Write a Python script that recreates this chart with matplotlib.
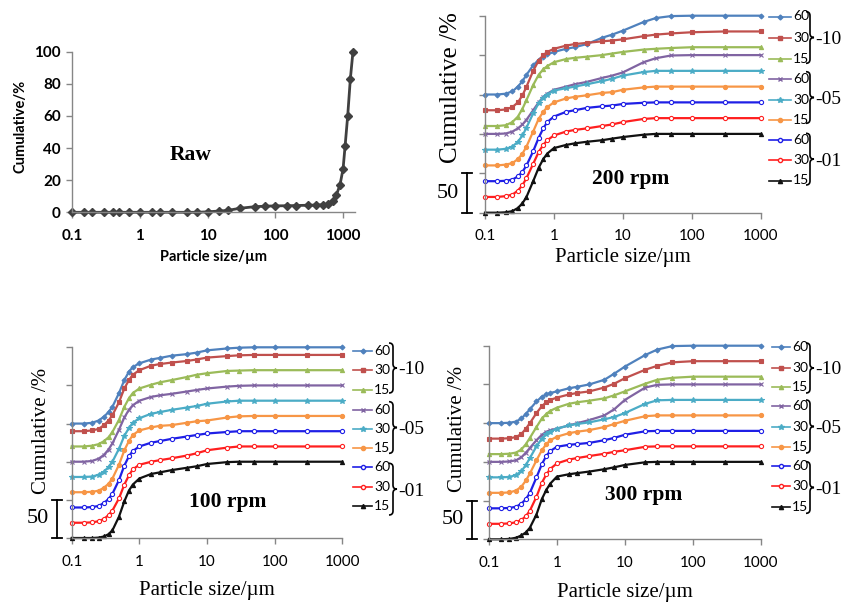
import numpy as np
import matplotlib.pyplot as plt
from matplotlib.lines import Line2D
from matplotlib.patches import PathPatch
from matplotlib.path import Path
from matplotlib.transforms import blended_transform_factory

# particle size grid (um) used for the milled samples
SIZES = [0.1, 0.15, 0.2, 0.25, 0.3, 0.35, 0.4, 0.5, 0.6, 0.7, 0.8, 1,
         1.5, 2, 3, 5, 7, 10, 20, 30, 50, 100, 300, 1000]

# raw powder
RAW_SIZES = [0.1, 0.15, 0.2, 0.3, 0.4, 0.5, 0.7, 1, 1.5, 2, 3, 5, 7, 10, 15, 20,
             30, 50, 70, 100, 150, 200, 300, 400, 500, 600, 700, 800, 900,
             1000, 1070, 1170, 1280, 1400]
RAW_CUM = [0, 0, 0, 0, 0, 0, 0, 0, 0, 0, 0, 0, 0, 0.3, 0.8, 1.2,
           2.5, 3.5, 3.8, 4, 4.1, 4.2, 4.4, 4.5, 4.7, 5, 7, 11, 17,
           27, 41, 60, 83, 100]

# legend order: 60/30/15 min for -10, -05, -01
TIMES = ['60', '30', '15', '60', '30', '15', '60', '30', '15']
GROUPS = ['-10', '-05', '-01']

# 200 rpm cumulative %
r200_60_10 = [0, 0, 1, 4, 10, 17, 25, 37, 44, 48, 51, 54, 58, 60, 64, 72, 76, 81, 92, 97, 99.5, 100, 100, 100]
r200_30_10 = [0, 0, 1, 4, 10, 19, 30, 50, 63, 70, 74, 78, 82, 84, 85.5, 87.5, 88.5, 90, 94, 96, 97.5, 99, 100, 100]
r200_15_10 = [0, 0, 1, 5, 12, 22, 33, 52, 65, 72, 76, 81, 85, 86.5, 88, 90, 92, 94, 97, 98, 99, 100, 100, 100]
r200_60_05 = [0, 0, 0.5, 3, 7, 12, 18, 30, 40, 47, 51, 56, 60, 63, 66, 71, 74, 78, 91, 96, 99.5, 100, 100, 100]
r200_30_05 = [0, 0, 1, 4, 10, 18, 28, 46, 59, 66, 70, 75, 78, 80, 83, 87, 90, 94, 98.5, 100, 100, 100, 100, 100]
r200_15_05 = [0, 0, 1, 3, 8, 15, 24, 43, 59, 68, 74, 80, 85, 87, 89, 92, 93, 96, 99, 100, 100, 100, 100, 100]
r200_60_01 = [0, 0, 0.5, 2, 6, 12, 20, 38, 55, 67, 75, 82, 88, 90, 93, 95, 96, 98, 99.5, 100, 100, 100, 100, 100]
r200_30_01 = [0, 0, 1, 3, 8, 15, 24, 42, 57, 66, 72, 78, 83, 85, 87, 90, 92, 95, 99, 100, 100, 100, 100, 100]
r200_15_01 = [0, 0, 0.5, 2, 6, 12, 20, 40, 57, 68, 75, 82, 86, 88, 90, 92, 94, 96, 99, 100, 100, 100, 100, 100]
OFF_200 = [150, 130, 110, 100, 80, 60, 40, 20, 0]

# 100 rpm cumulative %
r100_60_10 = [0, 0, 1, 4, 9, 15, 22, 40, 57, 68, 74, 79, 84, 86, 89, 91, 93, 96, 98.5, 99.5, 100, 100, 100, 100]
r100_30_10 = [0, 0, 1, 3, 8, 14, 21, 38, 56, 67, 74, 80, 86, 88, 90, 92, 94, 96.5, 98.5, 99.5, 100, 100, 100, 100]
r100_15_10 = [0, 0, 1, 3, 7, 12, 19, 35, 52, 63, 70, 76, 81, 84, 87, 91, 94, 96, 99, 99.5, 100, 100, 100, 100]
r100_60_05 = [0, 0, 1, 4, 9, 16, 24, 42, 58, 68, 74, 80, 85, 87, 89, 92, 94, 96, 98.5, 99.5, 100, 100, 100, 100]
r100_30_05 = [0, 0, 0.5, 3, 7, 13, 20, 37, 54, 64, 71, 77, 83, 85, 88, 91, 93, 96, 99, 100, 100, 100, 100, 100]
r100_15_05 = [0, 0, 0.5, 2, 6, 11, 18, 36, 55, 67, 75, 81, 85, 87, 88, 91, 93, 94, 98, 99.5, 100, 100, 100, 100]
r100_60_01 = [0, 0, 0.5, 2, 6, 11, 18, 36, 55, 67, 74, 80, 85, 87, 90, 93, 95, 97, 99, 100, 100, 100, 100, 100]
r100_30_01 = [0, 0, 0.5, 2, 5, 10, 16, 32, 50, 62, 70, 76, 80, 82, 84.5, 88, 91, 95, 98.5, 100, 100, 100, 100, 100]
r100_15_01 = [0, 0, 0, 0.5, 2, 5, 10, 28, 48, 62, 70, 78, 84, 86, 89, 92, 94, 97, 99.5, 100, 100, 100, 100, 100]
OFF_100 = [150, 140, 120, 100, 80, 60, 40, 20, 0]

# 300 rpm cumulative %
r300_60_10 = [0, 0, 0.5, 2, 6, 12, 18, 28, 34, 37, 39, 41, 45, 47, 50, 56, 64, 73, 88, 95, 99.5, 100, 100, 100]
r300_30_10 = [0, 0, 0.5, 2, 6, 13, 20, 33, 42, 47, 50, 53, 57, 59, 61, 66, 71, 78, 89, 94, 98.5, 100, 100, 100]
r300_15_10 = [0, 0, 0.5, 2, 6, 13, 21, 35, 46, 52, 56, 60, 65, 67, 69, 72, 76, 81, 91, 96, 98.5, 100, 100, 100]
r300_60_05 = [0, 0, 0.5, 2, 6, 12, 18, 28, 35, 39, 41, 43, 47, 50, 54, 60, 68, 80, 96, 99.5, 100, 100, 100, 100]
r300_30_05 = [0, 0, 0.5, 3, 8, 16, 25, 40, 50, 56, 59, 63, 67, 69, 71, 75, 78, 83, 95, 99.5, 100, 100, 100, 100]
r300_15_05 = [0, 0, 0.5, 3, 8, 16, 25, 42, 55, 63, 68, 72.5, 77, 79, 81, 85, 89, 93, 99, 100, 100, 100, 100, 100]
r300_60_01 = [0, 0, 0.5, 2, 6, 12, 20, 40, 57, 68, 74, 79.5, 82, 83, 84.5, 88, 91, 95, 99.5, 100, 100, 100, 100, 100]
r300_30_01 = [0, 0, 0.5, 2, 5, 10, 17, 35, 53, 64, 71, 78, 83, 85, 87.5, 90.5, 93, 95, 99.5, 100, 100, 100, 100, 100]
r300_15_01 = [0, 0, 0.5, 2, 5, 9, 15, 32, 52, 64, 72, 81, 84, 85.5, 87.5, 90.5, 93, 96, 99.5, 100, 100, 100, 100, 100]
OFF_300 = [150, 130, 110, 100, 80, 60, 40, 20, 0]

COLORS = ['#4F81BD', '#C0504D', '#9BBB59', '#8064A2', '#4BACC6', '#F79646',
          '#1F1FE6', '#FF1F1F', '#111111']
MARKERS = ['D', 's', '^', 'x', '*', 'o', 'o', 'o', '^']
FACES = [None, None, None, None, None, None, 'white', 'white', None]
MSIZE = [2.5, 3, 3, 3.5, 4, 3, 3, 3, 3]

W, H = 846, 606
SANS = ['Lato', 'DejaVu Sans']
SERIF = ['Liberation Serif', 'DejaVu Serif']
GRAY = '#868686'

fig = plt.figure(figsize=(W / 100, H / 100), dpi=100)


def fx(px):
    return px / W


def fy(py):
    return 1 - py / H


def make_axes(left, top, right, bottom):
    return fig.add_axes([fx(left), fy(bottom), (right - left) / W, (bottom - top) / H])


def style(ax, bold=False):
    ax.set_xscale('log')
    ax.set_facecolor('none')
    for s in ['top', 'right']:
        ax.spines[s].set_visible(False)
    for s in ['left', 'bottom']:
        ax.spines[s].set_color(GRAY)
        ax.spines[s].set_linewidth(1)
    ax.tick_params(which='minor', length=0)
    ax.tick_params(which='major', color=GRAY, length=4, width=1, labelsize=11, pad=8)
    ax.set_xticks([0.1, 1, 10, 100, 1000])
    ax.set_xticklabels(['0.1', '1', '10', '100', '1000'])
    for t in ax.get_xticklabels() + ax.get_yticklabels():
        t.set_family(SANS)
        if bold:
            t.set_weight('bold')


def brace(x, top, bottom, w=4):
    mid = (top + bottom) / 2
    pts = [(x - w, top), (x, top), (x, top + w), (x, mid - w), (x, mid), (x + w, mid),
           (x, mid), (x, mid + w), (x, bottom - w), (x, bottom), (x - w, bottom)]
    codes = [Path.MOVETO, Path.CURVE3, Path.CURVE3, Path.LINETO, Path.CURVE3, Path.CURVE3,
             Path.CURVE3, Path.CURVE3, Path.LINETO, Path.CURVE3, Path.CURVE3]
    pts = [(fx(a), fy(b)) for a, b in pts]
    fig.add_artist(PathPatch(Path(pts, codes), transform=fig.transFigure,
                             fill=False, lw=1.2, edgecolor='black'))


def legend(ys, x0, x1, xb, groups):
    for y, c, m, fc, ms, lab in zip(ys, COLORS, MARKERS, FACES, MSIZE, TIMES):
        fig.add_artist(Line2D([fx(x0), fx(x1)], [fy(y), fy(y)], transform=fig.transFigure,
                              color=c, lw=1.2))
        fig.add_artist(Line2D([fx((x0 + x1) / 2)], [fy(y)], transform=fig.transFigure,
                              color=c, marker=m, ms=ms, mfc=fc if fc else c, mec=c))
        fig.text(fx(x1 + 2), fy(y), lab, family=SANS, fontsize=10, va='center', ha='left')
    for (t, b), g in zip(groups, GROUPS):
        brace(xb, t, b)
        fig.text(fx(xb + 5), fy((t + b) / 2 + 2), g, family=SERIF, fontsize=14,
                 va='center', ha='left')


def scale_bar(ax, xb, xt):
    tr = blended_transform_factory(fig.transFigure, ax.transData)
    ax.plot([fx(xb), fx(xb)], [0, 50], color='black', lw=1.3, transform=tr, clip_on=False)
    for yy in [0, 50]:
        ax.plot([fx(xb - 5), fx(xb + 5)], [yy, yy], color='black', lw=1.3, transform=tr,
                clip_on=False)
    ax.text(fx(xt), 25, '50', transform=tr, family=SERIF, fontsize=16,
            ha='center', va='center')


def rpm_panel(box, series, offsets, title, title_xy, ylab_xy, ylab_size, xlab_y, bar):
    ax = make_axes(*box)
    for vals, off, c, m, fc, ms in zip(series, offsets, COLORS, MARKERS, FACES, MSIZE):
        ax.plot(SIZES, np.array(vals) + off, color=c, lw=1.6, marker=m, ms=ms,
                mfc=fc if fc else c, mec=c, mew=0.8, clip_on=False)
    ax.set_xlim(0.1, 1000)
    ax.set_ylim(0, 250)
    ax.set_yticks([0, 50, 100, 150, 200, 250])
    ax.set_yticklabels([])
    style(ax)
    fig.text(fx(title_xy[0]), fy(title_xy[1]), title, family=SERIF, fontsize=15.5,
             weight='bold', ha='center', va='center')
    fig.text(fx(ylab_xy[0]), fy(ylab_xy[1]), 'Cumulative /%', family=SERIF,
             fontsize=ylab_size, rotation=90, ha='center', va='center')
    fig.text(fx((box[0] + box[2]) / 2), fy(xlab_y), 'Particle size/\u00b5m', family=SERIF,
             fontsize=15, ha='center', va='center')
    scale_bar(ax, *bar)
    return ax


# raw powder panel
ax = make_axes(72, 51.7, 355, 212.3)
ax.plot(RAW_SIZES, RAW_CUM, color='#404040', lw=2, marker='D', ms=4, clip_on=False)
ax.set_xlim(0.1, 1500)
ax.set_ylim(0, 100)
ax.set_yticks([0, 20, 40, 60, 80, 100])
style(ax, bold=True)
ax.tick_params(axis='y', pad=4)
fig.text(fx(191), fy(155), 'Raw', family=SERIF, fontsize=15.5, weight='bold',
         ha='center', va='center')
fig.text(fx(21), fy(126), 'Cumulative/%', family=SANS, fontsize=10.5, weight='bold',
         rotation=90, ha='center', va='center')
fig.text(fx(213), fy(257), 'Particle size/\u00b5m', family=SANS, fontsize=10.5,
         weight='bold', ha='center', va='center')

rpm_panel((485, 15.7, 760.7, 212.7),
          [r200_60_10, r200_30_10, r200_15_10, r200_60_05, r200_30_05, r200_15_05,
           r200_60_01, r200_30_01, r200_15_01],
          OFF_200, '200 rpm', (631, 179), (451, 88), 18, 257, (467, 448))
legend([16.5, 38, 59, 79.3, 99.5, 119.5, 140, 160, 180.5], 769, 791, 810,
       [(11.7, 63.3), (71.7, 123.3), (133.3, 185)])

rpm_panel((71.7, 347.3, 342.3, 538),
          [r100_60_10, r100_30_10, r100_15_10, r100_60_05, r100_30_05, r100_15_05,
           r100_60_01, r100_30_01, r100_15_01],
          OFF_100, '100 rpm', (228, 502), (41, 431), 15, 591, (57, 38))
legend([350.7, 369.7, 390.3, 410, 429, 448.3, 467.3, 486.7, 505.7], 353, 372, 393,
       [(343, 393), (401.7, 453.3), (463.3, 515)])

rpm_panel((489, 345.7, 760.7, 539.3),
          [r300_60_10, r300_30_10, r300_15_10, r300_60_05, r300_30_05, r300_15_05,
           r300_60_01, r300_30_01, r300_15_01],
          OFF_300, '300 rpm', (644, 495), (457, 429), 15, 593, (472, 453))
legend([346.7, 367.7, 386.7, 406, 426.7, 446.7, 466, 486, 506.7], 772, 790, 810,
       [(343, 393), (400, 453), (461.7, 513.3)])

fig.savefig('out.png', dpi=100)
